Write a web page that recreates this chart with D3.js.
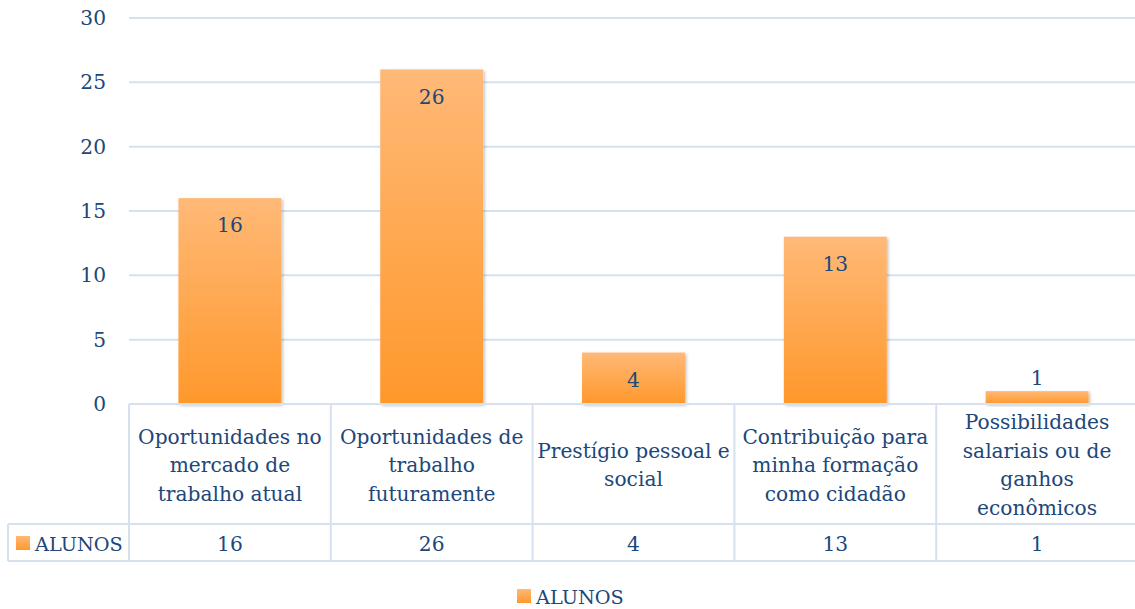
<!DOCTYPE html>
<html><head><meta charset="utf-8">
<script src="https://cdn.jsdelivr.net/npm/d3@7"></script>
<style>body{margin:0;background:#fff}svg{display:block}text{font-family:"DejaVu Serif","Liberation Serif",serif;fill:#20477a}</style>
</head><body><svg id="c" width="1135" height="609"></svg>
<script>
const categories = [
  ["Oportunidades no","mercado de","trabalho atual"],
  ["Oportunidades de","trabalho","futuramente"],
  ["Prestígio pessoal e","social"],
  ["Contribuição para","minha formação","como cidadão"],
  ["Possibilidades","salariais ou de","ganhos","econômicos"]
];
const seriesName = "ALUNOS";
const values = [16, 26, 4, 13, 1];
const yTicks = [0, 5, 10, 15, 20, 25, 30];

(function(){
const svg = d3.select("#c");
const left = 129, right = 1138, plotTop = 18, base = 404;
const fs = 20.2, fsLeg = 19.3;
const gridCol = "#d6e1f0";

const defs = svg.append("defs");
const g = defs.append("linearGradient").attr("id","bg").attr("x1",0).attr("y1",0).attr("x2",0).attr("y2",1);
g.append("stop").attr("offset","0%").attr("stop-color","#ffb977");
g.append("stop").attr("offset","100%").attr("stop-color","#ff982b");
const f = defs.append("filter").attr("id","sh").attr("x","-10%").attr("y","-10%").attr("width","130%").attr("height","130%");
f.append("feDropShadow").attr("dx",1.5).attr("dy",1.5).attr("stdDeviation",1.5).attr("flood-color","#000").attr("flood-opacity",0.25);

const x = d3.scaleBand().domain(d3.range(values.length)).range([left, right]).paddingInner(0).paddingOuter(0);
const y = d3.scaleLinear().domain([0, 30]).range([base, plotTop]);

svg.append("g").selectAll("line").data(yTicks).join("line")
  .attr("x1", left).attr("x2", right).attr("y1", d=>y(d)).attr("y2", d=>y(d))
  .attr("stroke", gridCol).attr("stroke-width", 2);

svg.append("g").selectAll("text").data(yTicks).join("text")
  .attr("x", 106).attr("y", d=>y(d)).attr("dy","0.35em").attr("text-anchor","end")
  .attr("font-size", fs).text(d=>d);

const bw = x.bandwidth()*0.51;
svg.append("g").selectAll("rect").data(values).join("rect")
  .attr("x",(d,i)=>x(i)+x.bandwidth()/2-bw/2).attr("width",bw)
  .attr("y",d=>y(d)).attr("height",d=>base-y(d))
  .attr("fill","url(#bg)").attr("filter","url(#sh)");

svg.append("g").selectAll("text").data(values).join("text")
  .attr("x",(d,i)=>x(i)+x.bandwidth()/2)
  .attr("y",d=> (base-y(d))>30 ? y(d)+27 : y(d)-13)
  .attr("dy","0.35em").attr("text-anchor","middle").attr("font-size",fs).text(d=>d);

const rowTop = base, rowMid = 524, rowBot = 561, tLeft = 8;
const tb = svg.append("g").attr("stroke", gridCol).attr("stroke-width", 2).attr("fill","none");
tb.append("line").attr("x1",left).attr("x2",right).attr("y1",rowTop).attr("y2",rowTop);
tb.append("line").attr("x1",tLeft).attr("x2",right).attr("y1",rowMid).attr("y2",rowMid);
tb.append("line").attr("x1",tLeft).attr("x2",right).attr("y1",rowBot).attr("y2",rowBot);
tb.append("line").attr("x1",tLeft).attr("x2",tLeft).attr("y1",rowMid).attr("y2",rowBot);
tb.selectAll("line.v").data(d3.range(values.length+1)).join("line")
  .attr("x1",i=> i<values.length ? x(i) : right-1).attr("x2",i=> i<values.length ? x(i) : right-1)
  .attr("y1",rowTop).attr("y2",rowBot);

const lh = 28.5, midY = 465;
categories.forEach((lines,i)=>{
  const t = svg.append("text").attr("text-anchor","middle").attr("font-size",fs);
  const y0 = midY - (lines.length-1)*lh/2;
  lines.forEach((s,j)=>{
    t.append("tspan").attr("x", x(i)+x.bandwidth()/2).attr("y", y0+j*lh).attr("dy","0.35em").text(s);
  });
});

svg.append("g").selectAll("text").data(values).join("text")
  .attr("x",(d,i)=>x(i)+x.bandwidth()/2).attr("y",(rowMid+rowBot)/2+1).attr("dy","0.35em")
  .attr("text-anchor","middle").attr("font-size",fs).text(d=>d);

svg.append("rect").attr("x",16).attr("y",536).attr("width",14).attr("height",14).attr("fill","url(#bg)");
svg.append("text").attr("x",35).attr("y",544).attr("dy","0.35em").attr("font-size",fsLeg).text(seriesName);

svg.append("rect").attr("x",517).attr("y",589).attr("width",14).attr("height",14).attr("fill","url(#bg)");
svg.append("text").attr("x",536).attr("y",597).attr("dy","0.35em").attr("font-size",fsLeg).text(seriesName);
})();
</script></body></html>
